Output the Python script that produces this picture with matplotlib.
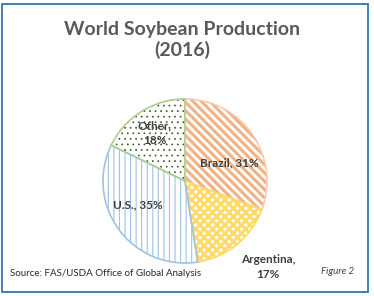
import numpy as np
import matplotlib.pyplot as plt
from matplotlib.patches import Rectangle

plt.rcParams['font.family'] = ['Lato', 'DejaVu Sans']

countries = ['Brazil', 'Argentina', 'U.S.', 'Other']
shares = [31, 17, 35, 18]
hatches = ['\\\\\\\\', 'xxxx', '|||', '...']
hatch_lw = [2.2, 2.0, 0.8, 0.5]
hatch_cols = ['#F4B183', '#FFD966', '#9DC3E6', '#385723']
edge_cols = ['#F8CBAD', '#FFD966', '#9DC3E6', '#A9D18E']

fig = plt.figure(figsize=(3.74, 2.96), dpi=100)
ax = fig.add_axes([0, 0, 1, 1])
ax.axis('off')

cx, cy, r = 185, 115, 82
expl = [0.03] * 4

w1, _ = ax.pie(shares, startangle=90, counterclock=False, center=(cx, cy),
               radius=r, explode=expl, colors=['white'] * 4)
for w, h, c, lw in zip(w1, hatches, hatch_cols, hatch_lw):
    w.set_hatch(h)
    w.set_edgecolor(c)
    w.set_linewidth(0)
    if hasattr(w, 'set_hatch_linewidth'):
        w.set_hatch_linewidth(lw)
w2, _ = ax.pie(shares, startangle=90, counterclock=False, center=(cx, cy),
               radius=r, explode=expl, colors=['none'] * 4,
               wedgeprops=dict(linewidth=1.2))
for w, c in zip(w2, edge_cols):
    w.set_edgecolor(c)
ax.set_xlim(0, 374)
ax.set_ylim(0, 296)
ax.set_aspect('equal')

lab_pos = [(229, 133), (268, 29), (138, 91), (155, 163)]
lab_txt = ['Brazil, 31%', 'Argentina,\n17%', 'U.S., 35%', 'Other,\n18%']
for (x, y), t in zip(lab_pos, lab_txt):
    ax.text(x, y, t, ha='center', va='center', fontsize=8.5,
            fontweight='bold', color='#404040', linespacing=1.35)

ax.text(182, 256, 'World Soybean Production\n(2016)', ha='center', va='center',
        fontsize=14, fontweight='bold', color='#595959', linespacing=1.25)
ax.text(10, 23, 'Source: FAS/USDA Office of Global Analysis', ha='left',
        va='center', fontsize=7, color='#262626')
ax.text(338, 24, 'Figure 2', ha='center', va='center', fontsize=7,
        style='italic', color='#404040')

ax.add_patch(Rectangle((2.5, 4.5), 365.5, 287.5, fill=False,
                       edgecolor='#2E75B6', linewidth=1.3))

fig.savefig('out.png', dpi=100)
